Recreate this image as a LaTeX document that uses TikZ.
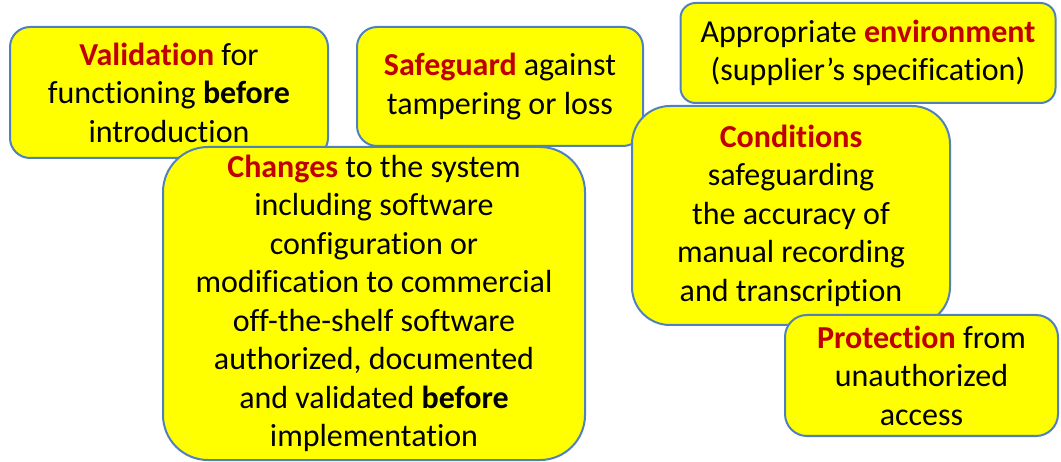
\documentclass[tikz,border=0pt]{standalone}
\usepackage{fontspec}
\setmainfont{Carlito}[Ligatures=NoCommon]
\usepackage{tikz}
\usetikzlibrary{positioning,calc}

\definecolor{boxedge}{HTML}{4F81BD}
\definecolor{boxfill}{HTML}{FFFF00}
\definecolor{keyred}{HTML}{C00000}
\newcommand{\keyword}[1]{{\color{keyred}\bfseries #1}}

\begin{document}
\begin{tikzpicture}[x=1pt,y=-1pt]
                \tikzstyle{bubble}=[draw=boxedge, fill=boxfill, line width=2pt, align=center, inner sep=0pt,
                                    font=\fontsize{32}{38.5}\selectfont]

                \useasboundingbox (0,0) rectangle (1061,462);

                \node[bubble, rounded corners=20pt, minimum width=318pt, minimum height=131pt] (val) at (169,92.5)
                    {\keyword{Validation} for\\ functioning \textbf{before}\\ introduction};
                \node[bubble, rounded corners=20pt, minimum width=286pt, minimum height=119pt] (safe) at (500,86.5)
                    {\keyword{Safeguard} against\\ tampering or loss};
                \node[bubble, rounded corners=15pt, minimum width=375pt, minimum height=100pt] (env) at (868,53)
                    {Appropriate \keyword{environment}\\ (supplier's specification)};
                \node[bubble, rounded corners=45pt, minimum width=422pt, minimum height=313pt] (chg) at (374,303.5)
                    {\keyword{Changes} to the system\\ including software\\ configuration or\\ modification to commercial\\
                     off-the-shelf software\\ authorized, documented\\ and validated \textbf{before}\\ implementation};
                \node[bubble, rounded corners=38pt, minimum width=318pt, minimum height=219pt] (cond) at (791,215.5)
                    {\keyword{Conditions}\\ safeguarding\\ the accuracy of\\ manual recording\\ and transcription};
                \node[bubble, rounded corners=22pt, minimum width=273pt, minimum height=121pt] (prot) at (921.5,375.5)
                    {\keyword{Protection} from\\ unauthorized\\ access};
            \end{tikzpicture}
\end{document}
